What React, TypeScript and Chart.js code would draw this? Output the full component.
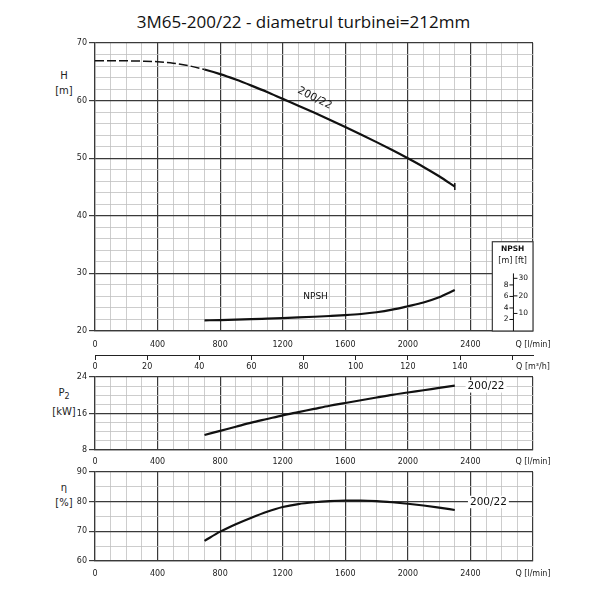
import { useEffect, useRef } from "react"
import { Chart, registerables } from "chart.js"

Chart.register(...registerables)

// Flow Q [l/min] for the head curve (dashed below 700)
const headQ = [0, 100, 200, 300, 400, 500, 600, 700, 800, 900, 1000, 1100, 1200, 1300, 1400, 1500, 1600, 1700, 1800, 1900, 2000, 2100, 2200, 2300]
const headM = [66.9, 66.9, 66.9, 66.85, 66.75, 66.5, 66.05, 65.4, 64.6, 63.65, 62.6, 61.5, 60.3, 59.12, 57.92, 56.69, 55.43, 54.13, 52.79, 51.41, 49.98, 48.48, 46.86, 45.08]

// Flow Q [l/min] for NPSH, P2 and efficiency
const dutyQ = [700, 800, 900, 1000, 1100, 1200, 1300, 1400, 1500, 1600, 1700, 1800, 1900, 2000, 2100, 2200, 2300]
const npshM = [1.85, 1.9, 1.97, 2.05, 2.15, 2.25, 2.35, 2.47, 2.6, 2.75, 2.95, 3.25, 3.7, 4.3, 4.95, 5.85, 7.1]
const powerKW = [11.3, 12.2, 13.1, 14.0, 14.8, 15.6, 16.3, 17.0, 17.7, 18.3, 18.9, 19.5, 20.1, 20.6, 21.1, 21.6, 22.1]
const effPct = [66.8, 69.9, 72.4, 74.6, 76.6, 78.2, 79.2, 79.8, 80.2, 80.4, 80.4, 80.2, 79.8, 79.3, 78.7, 78.0, 77.2]

// tick labels
const m3hTicks = [0, 20, 40, 60, 80, 100, 120, 140, 160]
const npshMeterTicks = [2, 4, 6, 8]
const npshFeetTicks = [10, 20, 30]

const Q_MAX = 2800
const M3H_MAX = (Q_MAX * 60) / 1000
const MAJOR = "#3a3a3a"
const MINOR = "#c0c0c0"
const FONT = '"DejaVu Sans", sans-serif'
const tickFont = { family: FONT, size: 8 }

const pts = (xs: number[], ys: number[]) => xs.map((x, i) => ({ x, y: ys[i] }))

function qAxis(height: number, pad: number) {
  return {
    type: "linear" as const,
    position: "bottom" as const,
    min: 0,
    max: Q_MAX,
    afterFit: (s: any) => {
      s.height = height
    },
    ticks: {
      stepSize: 100,
      autoSkip: false,
      maxRotation: 0,
      minRotation: 0,
      padding: pad,
      color: "#222",
      font: tickFont,
      callback: (v: any) => {
        const n = Number(v)
        if (n === Q_MAX) return "Q [l/min]"
        return n % 400 === 0 && n <= 2400 ? String(n) : ""
      },
    },
    grid: {
      color: (c: any) => (c.tick && c.tick.value % 400 === 0 ? MAJOR : MINOR),
      lineWidth: (c: any) => (c.tick && c.tick.value % 400 === 0 ? 1.2 : 0.8),
      tickLength: 4,
      tickColor: "transparent",
    },
    border: { color: MAJOR, width: 1.2 },
  }
}

function valueAxis(min: number, max: number, step: number, major: number, label: number) {
  const isMajor = (v: number) => Math.abs(v / major - Math.round(v / major)) < 1e-6
  const isLabel = (v: number) => Math.abs(v / label - Math.round(v / label)) < 1e-6
  return {
    type: "linear" as const,
    position: "left" as const,
    min,
    max,
    afterFit: (s: any) => {
      s.width = 95
    },
    ticks: {
      stepSize: step,
      autoSkip: false,
      padding: 2,
      color: "#222",
      font: tickFont,
      callback: (v: any) => (isLabel(Number(v)) ? String(Math.round(Number(v))) : ""),
    },
    grid: {
      color: (c: any) => (c.tick && isMajor(c.tick.value) ? MAJOR : MINOR),
      lineWidth: (c: any) => (c.tick && isMajor(c.tick.value) ? 1.2 : 0.8),
      tickLength: 6,
      tickColor: (c: any) => (c.tick && isLabel(c.tick.value) ? MAJOR : "transparent"),
    },
    border: { color: MAJOR, width: 1.2 },
  }
}

type Note = { x: number; y: number; text: string; axis?: string; angle?: number; size?: number; knockout?: boolean }

const notesPlugin = {
  id: "notes",
  afterDatasetsDraw(chart: any, _args: any, opts: any) {
    const { ctx } = chart
    for (const n of (opts.items || []) as Note[]) {
      const size = n.size ?? 12
      const px = chart.scales.x.getPixelForValue(n.x)
      const py = chart.scales[n.axis ?? "y"].getPixelForValue(n.y)
      ctx.save()
      ctx.translate(px, py)
      ctx.rotate(((n.angle ?? 0) * Math.PI) / 180)
      ctx.font = `${size}px ${FONT}`
      ctx.textAlign = "center"
      ctx.textBaseline = "middle"
      if (n.knockout) {
        const w = ctx.measureText(n.text).width
        ctx.fillStyle = "#fff"
        ctx.fillRect(-w / 2 - 2, -size / 2 - 1, w + 4, size + 2)
      }
      ctx.fillStyle = "#111"
      ctx.fillText(n.text, 0, 0)
      ctx.restore()
    }
  },
}

// small NPSH scale box in the lower right corner of the head chart
const npshInsetPlugin = {
  id: "npshInset",
  afterDatasetsDraw(chart: any) {
    const { ctx, chartArea } = chart
    const xs = chart.scales.x
    const yn = chart.scales.yN
    const left = xs.getPixelForValue(2540)
    const right = chartArea.right
    const top = yn.getPixelForValue(15.5)
    const bottom = chartArea.bottom
    const mid = (left + right) / 2
    const ax = xs.getPixelForValue(2675)

    ctx.save()
    ctx.fillStyle = "#fff"
    ctx.fillRect(left, top, right - left, bottom - top)
    ctx.strokeStyle = MAJOR
    ctx.lineWidth = 1.2
    ctx.strokeRect(left, top, right - left, bottom - top)

    ctx.fillStyle = "#111"
    ctx.textAlign = "center"
    ctx.textBaseline = "middle"
    ctx.font = `bold 7.5px ${FONT}`
    ctx.fillText("NPSH", mid, top + 7)
    ctx.font = `8px ${FONT}`
    ctx.fillText("[m] [ft]", mid, top + 19)

    ctx.lineWidth = 1
    ctx.strokeStyle = "#111"
    ctx.beginPath()
    ctx.moveTo(ax, yn.getPixelForValue(0))
    ctx.lineTo(ax, yn.getPixelForValue(10))
    ctx.stroke()

    ctx.font = `7.5px ${FONT}`
    ctx.textAlign = "right"
    for (const m of npshMeterTicks) {
      const y = yn.getPixelForValue(m)
      ctx.beginPath()
      ctx.moveTo(ax - 4, y)
      ctx.lineTo(ax, y)
      ctx.stroke()
      ctx.fillText(String(m), ax - 5, y)
    }
    ctx.textAlign = "left"
    for (const ft of npshFeetTicks) {
      const y = yn.getPixelForValue(ft * 0.3048)
      ctx.beginPath()
      ctx.moveTo(ax, y)
      ctx.lineTo(ax + 4, y)
      ctx.stroke()
      ctx.fillText(String(ft), ax + 5, y)
    }
    ctx.restore()
  },
}

const lineStyle = {
  borderColor: "#111",
  borderWidth: 2.2,
  tension: 0.4,
  cubicInterpolationMode: "monotone" as const,
  pointRadius: 0,
  fill: false,
}

function headConfig(): any {
  return {
    type: "line",
    data: {
      datasets: [
        {
          ...lineStyle,
          data: pts(headQ, headM),
          yAxisID: "y",
          pointRadius: headQ.map((_, i) => (i === headQ.length - 1 ? 3.5 : 0)),
          pointStyle: "line",
          rotation: 90,
          pointBorderColor: "#111",
          pointBorderWidth: 1.5,
          segment: {
            borderDash: (c: any) => (c.p1.parsed.x <= 700 ? [9, 3] : undefined),
            borderWidth: (c: any) => (c.p1.parsed.x <= 700 ? 1.5 : 2.2),
          },
        },
        { ...lineStyle, data: pts(dutyQ, npshM), yAxisID: "yN" },
      ],
    },
    options: {
      responsive: false,
      animation: false,
      layout: { padding: { top: 7, right: 75, left: 0, bottom: 0 } },
      plugins: {
        legend: { display: false },
        tooltip: { enabled: false },
        notes: {
          items: [
            { x: 1405, y: 60.4, text: "200/22", angle: 27, size: 10.5 },
            { x: 1410, y: 5.9, text: "NPSH", axis: "yN", size: 9 },
          ],
        },
      },
      scales: {
        x: qAxis(24, 5),
        x2: {
          type: "linear",
          position: "bottom",
          min: 0,
          max: M3H_MAX,
          afterFit: (s: any) => {
            s.height = 20
          },
          afterBuildTicks: (s: any) => {
            s.ticks = [...m3hTicks, M3H_MAX].map((value) => ({ value }))
          },
          ticks: {
            autoSkip: false,
            maxRotation: 0,
            padding: 2,
            color: "#222",
            font: tickFont,
            callback: (v: any) => {
              const n = Number(v)
              if (n === M3H_MAX) return "Q [m³/h]"
              return n === 160 ? "" : String(n)
            },
          },
          grid: {
            drawOnChartArea: false,
            tickLength: 5,
            color: (c: any) => (c.tick && c.tick.value === M3H_MAX ? "transparent" : "#222"),
          },
          border: { color: "#222", width: 1 },
        },
        y: valueAxis(20, 70, 2, 10, 10),
        yN: { type: "linear", display: false, min: 0, max: 50 },
      },
    },
    plugins: [notesPlugin, npshInsetPlugin],
  }
}

function powerConfig(): any {
  return {
    type: "line",
    data: { datasets: [{ ...lineStyle, data: pts(dutyQ, powerKW) }] },
    options: {
      responsive: false,
      animation: false,
      layout: { padding: { top: 9, right: 75, left: 0, bottom: 0 } },
      plugins: {
        legend: { display: false },
        tooltip: { enabled: false },
        notes: { items: [{ x: 2500, y: 21.95, text: "200/22", size: 10.5, knockout: true }] },
      },
      scales: {
        x: qAxis(20, 3),
        y: valueAxis(8, 24, 2, 8, 8),
      },
    },
    plugins: [notesPlugin],
  }
}

function effConfig(): any {
  return {
    type: "line",
    data: { datasets: [{ ...lineStyle, data: pts(dutyQ, effPct) }] },
    options: {
      responsive: false,
      animation: false,
      layout: { padding: { top: 8, right: 75, left: 0, bottom: 0 } },
      plugins: {
        legend: { display: false },
        tooltip: { enabled: false },
        notes: { items: [{ x: 2515, y: 79.9, text: "200/22", size: 10.5, knockout: true }] },
      },
      scales: {
        x: qAxis(22, 4),
        y: valueAxis(60, 90, 5, 10, 10),
      },
    },
    plugins: [notesPlugin],
  }
}

function PanelChart({ top, height, build }: { top: number; height: number; build: () => any }) {
  const canvasRef = useRef<HTMLCanvasElement>(null)

  useEffect(() => {
    if (!canvasRef.current) return
    const chart = new Chart(canvasRef.current, build())
    return () => chart.destroy()
  }, [build])

  return (
    <canvas
      ref={canvasRef}
      width={608}
      height={height}
      style={{ position: "absolute", left: 0, top, width: 608, height }}
    />
  )
}

const axisLabel: React.CSSProperties = {
  position: "absolute",
  width: 40,
  textAlign: "center",
  fontFamily: FONT,
  fontSize: 10,
  lineHeight: "15px",
  color: "#222",
}

export default function App() {
  return (
    <div style={{ position: "absolute", left: 0, top: 0, width: 608, height: 608, background: "#fff", overflow: "hidden" }}>
      <div
        style={{
          position: "absolute",
          left: 0,
          top: 10,
          width: 607,
          textAlign: "center",
          fontFamily: '"Open Sans", sans-serif',
          fontSize: 17,
          color: "#111",
        }}
      >
        3M65-200/22 - diametrul turbinei=212mm
      </div>
      <div style={{ ...axisLabel, left: 44, top: 68 }}>
        H<br />[m]
      </div>
      <div style={{ ...axisLabel, left: 44, top: 385 }}>
        P<sub style={{ fontSize: 8 }}>2</sub>
        <br />[kW]
      </div>
      <div style={{ ...axisLabel, left: 44, top: 480 }}>
        η<br />[%]
      </div>
      <PanelChart top={36} height={339} build={headConfig} />
      <PanelChart top={368} height={102} build={powerConfig} />
      <PanelChart top={464} height={119} build={effConfig} />
    </div>
  )
}
